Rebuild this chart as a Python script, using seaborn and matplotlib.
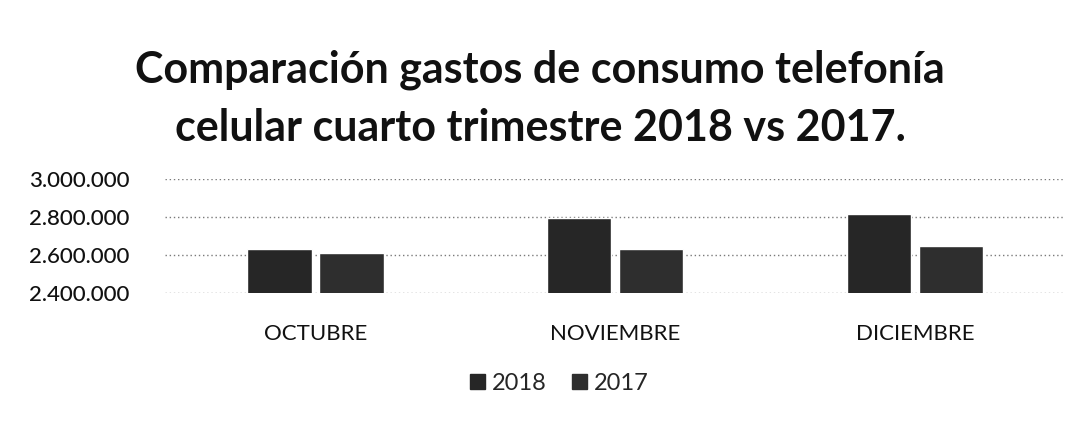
import numpy as np
import pandas as pd
import matplotlib
matplotlib.use("Agg")
import matplotlib.pyplot as plt
import seaborn as sns
from matplotlib.ticker import FuncFormatter

meses = ["OCTUBRE", "NOVIEMBRE", "DICIEMBRE"]
gasto_2018 = [2631000, 2797000, 2815000]
gasto_2017 = [2610000, 2630000, 2645000]
anios = ["2018", "2017"]

df = pd.DataFrame({
    "mes": meses * 2,
    "anio": [anios[0]] * 3 + [anios[1]] * 3,
    "gasto": gasto_2018 + gasto_2017,
})

sns.set_theme(style="white")
plt.rcParams["font.family"] = ["Lato", "DejaVu Sans"]

fig = plt.figure(figsize=(10.8, 4.21), dpi=100)
ax = fig.add_axes([0.153, 0.304, 0.833, 0.271])

sns.barplot(data=df, x="mes", y="gasto", hue="anio", hue_order=anios,
            palette=["#262626", "#2e2e2e"], width=0.48, gap=0.1,
            ax=ax, legend=False, zorder=3)

ax.set_ylim(2400000, 3000000)
ax.set_yticks([2400000, 2600000, 2800000, 3000000])
ax.yaxis.set_major_formatter(FuncFormatter(lambda v, p: f"{int(v):,}".replace(",", ".")))
ax.grid(axis="y", color="#7a7a7a", linestyle=(0, (1, 2)), linewidth=1.0, zorder=0)
for s in ax.spines.values():
    s.set_visible(False)
ax.set_xlabel("")
ax.set_ylabel("")
ax.tick_params(axis="y", labelsize=16, pad=26, length=0, colors="#111111")
ax.tick_params(axis="x", labelsize=16, pad=22, length=0, colors="#111111")
for lab in ax.get_yticklabels():
    lab.set_fontweight("medium")

fig.text(0.5, 0.835, "Comparación gastos de consumo telefonía", ha="center", va="center",
         fontsize=31, fontweight="bold", color="#111111")
fig.text(0.5, 0.697, "celular cuarto trimestre 2018 vs 2017.", ha="center", va="center",
         fontsize=31, fontweight="bold", color="#111111")

handles = [plt.Rectangle((0, 0), 1, 1, color=c) for c in ["#262626", "#2e2e2e"]]
fig.legend(handles, anios, loc="center", bbox_to_anchor=(0.518, 0.09), ncol=2,
           frameon=False, fontsize=17, handlelength=0.6, handleheight=0.6,
           handletextpad=0.3, columnspacing=1.1)

fig.savefig("out.png", dpi=100, facecolor="white")
